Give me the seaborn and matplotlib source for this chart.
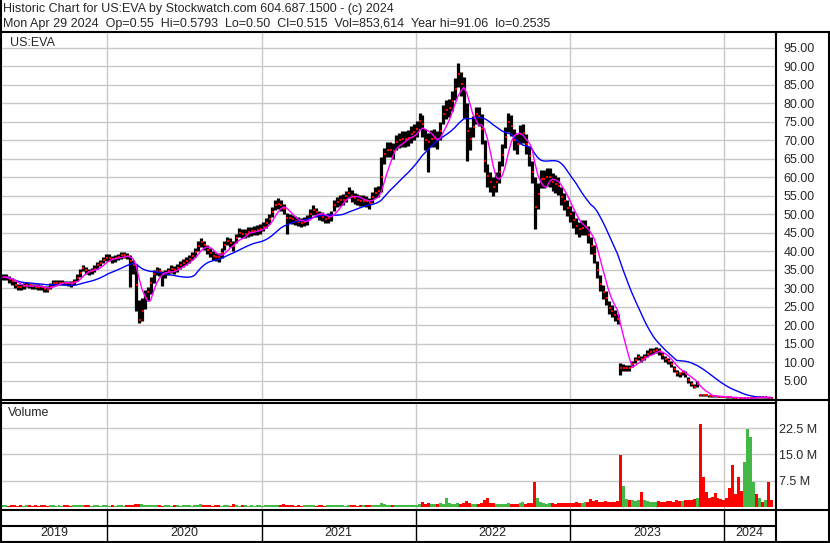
import numpy as np
import pandas as pd
import matplotlib
matplotlib.use("Agg")
import matplotlib.pyplot as plt
import seaborn as sns

sns.set_style("white")
plt.rcParams['font.family'] = ['Liberation Sans', 'DejaVu Sans']

# Dados semanais (US:EVA, abr/2019 - abr/2024)
week_start = "2019-04-29"

close = [33.0, 33.0, 32.5, 31.9, 31.0, 30.5, 30.3, 30.6, 31.0, 30.8,
         30.6, 30.5, 30.4, 30.3, 29.8, 29.7, 30.5, 31.4, 31.6, 31.6,
         31.6, 31.5, 31.4, 31.2, 31.8, 32.8, 34.3, 35.6, 34.9, 34.4,
         34.8, 35.3, 36.2, 37.0, 37.6, 38.2, 38.3, 37.9, 38.1, 38.5,
         38.9, 39.0, 38.8, 37.5, 36.2, 31.0, 21.5, 24.0, 27.5, 29.0,
         31.5, 34.0, 34.8, 34.6, 33.8, 34.0, 34.7, 35.2, 35.0, 35.5,
         36.4, 37.0, 37.5, 37.9, 38.7, 39.8, 41.5, 42.5, 41.6, 40.4,
         39.6, 38.8, 38.5, 38.4, 39.5, 41.6, 42.8, 42.4, 41.4, 43.5,
         45.0, 44.8, 44.8, 45.3, 45.5, 45.5, 45.8, 46.0, 46.7, 47.6,
         48.7, 50.6, 52.6, 52.9, 52.5, 51.5, 49.1, 49.0, 48.7, 48.3,
         48.0, 47.8, 48.0, 48.5, 50.2, 51.2, 50.6, 49.8, 49.4, 48.8,
         49.0, 49.5, 52.6, 53.3, 53.8, 54.0, 54.9, 55.9, 54.9, 54.4,
         54.0, 53.7, 53.7, 53.6, 53.0, 54.6, 55.8, 56.3, 60.0, 66.3,
         67.4, 67.5, 67.2, 69.5, 70.0, 70.4, 70.4, 70.7, 71.6, 72.2,
         73.0, 75.2, 74.5, 70.0, 69.6, 70.5, 70.6, 70.0, 72.5, 77.0,
         78.3, 78.8, 80.6, 84.0, 87.9, 85.2, 84.0, 72.5, 70.5, 73.7,
         77.2, 76.7, 73.0, 64.5, 60.5, 58.8, 57.5, 58.8, 61.5, 66.0,
         70.8, 75.0, 74.0, 70.2, 69.0, 71.6, 72.0, 69.0, 65.7, 61.5,
         52.0, 55.5, 59.5, 59.5, 60.0, 60.0, 58.8, 58.2, 57.7, 54.8,
         53.5, 51.8, 50.2, 48.6, 46.9, 46.0, 46.4, 46.5, 44.5, 41.5,
         39.4, 35.0, 31.2, 29.1, 27.4, 24.8, 23.9, 22.8, 21.8, 8.5,
         8.6, 8.6, 8.5, 9.6, 10.6, 11.6, 10.9, 11.6, 12.4, 12.9,
         13.1, 13.3, 13.0, 11.9, 10.9, 10.3, 9.5, 8.2, 7.1, 6.8,
         7.3, 6.8, 5.2, 4.3, 3.5, 4.2, 1.3, 1.2, 1.1, 1.0,
         0.9, 0.85, 0.8, 0.7, 0.65, 0.6, 0.55, 0.5, 0.45, 0.35,
         0.3, 0.3, 0.35, 0.5, 0.6, 0.55, 0.6, 0.55, 0.55, 0.52,
         0.515]

high = [34.0, 33.8, 33.4, 32.8, 31.9, 31.3, 31.1, 31.4, 31.8, 31.6,
        31.3, 31.2, 31.1, 31.0, 30.6, 30.6, 31.4, 32.2, 32.3, 32.2,
        32.3, 32.1, 32.0, 31.9, 32.6, 33.8, 35.3, 36.4, 35.8, 35.2,
        35.6, 36.2, 37.1, 37.8, 38.5, 39.2, 39.2, 38.8, 39.0, 39.4,
        39.8, 39.8, 39.6, 39.0, 37.8, 36.5, 27.0, 27.5, 29.5, 30.5,
        33.0, 35.0, 35.8, 35.6, 34.8, 35.0, 35.6, 36.2, 36.0, 36.5,
        37.4, 38.0, 38.6, 39.0, 39.8, 41.0, 42.8, 43.5, 42.8, 41.6,
        40.8, 40.0, 39.6, 39.6, 40.8, 42.8, 44.0, 43.6, 42.7, 44.6,
        46.2, 46.0, 46.0, 46.5, 46.7, 46.8, 47.0, 47.3, 48.0, 48.9,
        50.0, 52.0, 54.0, 54.3, 53.8, 52.8, 50.4, 50.2, 49.9, 49.5,
        49.2, 49.0, 49.2, 49.8, 51.5, 52.5, 51.8, 51.0, 50.6, 50.0,
        50.3, 51.0, 54.0, 54.8, 55.2, 55.5, 56.4, 57.4, 56.5, 55.9,
        55.5, 55.2, 55.2, 55.1, 54.5, 56.1, 57.3, 57.8, 65.5, 68.0,
        69.5, 69.6, 69.3, 71.5, 72.0, 72.4, 72.5, 72.8, 73.8, 74.4,
        75.2, 77.4, 76.8, 73.0, 72.0, 72.8, 73.0, 72.4, 75.0, 79.5,
        80.8, 81.3, 83.2, 86.8, 91.0, 88.5, 87.0, 80.0, 73.5, 76.5,
        79.0, 79.0, 77.0, 70.0, 63.5, 61.5, 60.2, 61.5, 64.5, 69.0,
        73.5, 77.5, 76.8, 73.0, 71.8, 74.2, 74.5, 71.8, 68.5, 64.5,
        60.0, 58.5, 62.0, 62.0, 62.4, 62.5, 61.2, 60.6, 60.0, 57.3,
        55.8, 54.0, 52.4, 50.8, 49.0, 48.0, 48.5, 48.6, 46.8, 43.8,
        41.6, 37.5, 33.5, 31.0, 29.2, 26.6, 25.5, 24.3, 23.2, 9.9,
        9.5, 9.4, 9.3, 10.5, 11.5, 12.4, 11.8, 12.4, 13.3, 13.8,
        14.0, 14.2, 14.0, 12.9, 11.8, 11.1, 10.3, 9.0, 7.9, 7.5,
        8.0, 7.6, 6.0, 5.0, 4.1, 4.9, 1.6, 1.45, 1.35, 1.25,
        1.1, 1.05, 1.0, 0.9, 0.85, 0.8, 0.7, 0.65, 0.6, 0.5,
        0.4, 0.38, 0.5, 0.65, 0.75, 0.7, 0.72, 0.68, 0.65, 0.6,
        0.58]

low = [32.3, 32.2, 31.6, 30.9, 30.1, 29.7, 29.5, 29.9, 30.3, 30.0,
       29.9, 29.8, 29.7, 29.6, 29.0, 28.9, 29.8, 30.7, 30.9, 30.9,
       30.9, 30.8, 30.7, 30.5, 31.0, 31.9, 33.2, 34.6, 34.0, 33.6,
       34.0, 34.5, 35.3, 36.1, 36.8, 37.3, 37.4, 37.0, 37.2, 37.6,
       38.0, 38.2, 37.9, 30.3, 34.0, 24.0, 20.7, 21.3, 24.5, 26.5,
       28.5, 31.5, 33.6, 33.4, 30.7, 32.8, 33.7, 34.2, 34.0, 34.4,
       35.3, 35.9, 36.4, 36.8, 37.6, 38.6, 40.0, 41.3, 40.4, 39.2,
       38.4, 37.6, 37.3, 37.2, 38.3, 40.3, 41.6, 41.2, 40.1, 42.3,
       43.8, 43.6, 43.6, 44.0, 44.2, 44.3, 44.5, 44.7, 45.4, 46.3,
       47.4, 49.2, 51.2, 51.5, 51.0, 50.2, 44.6, 47.8, 47.5, 47.1,
       46.8, 46.6, 46.8, 47.2, 48.9, 49.9, 49.4, 48.6, 48.2, 47.6,
       47.8, 48.2, 51.0, 51.9, 52.4, 52.6, 53.4, 54.4, 53.4, 52.9,
       52.5, 52.2, 52.2, 52.1, 51.5, 53.1, 54.3, 54.8, 56.0, 63.5,
       65.4, 65.4, 65.0, 67.4, 68.0, 68.3, 68.3, 68.6, 69.4, 70.0,
       70.8, 73.0, 71.0, 67.5, 61.5, 68.2, 68.2, 67.6, 70.0, 74.5,
       75.8, 76.2, 78.0, 81.0, 84.5, 82.0, 76.0, 64.5, 67.5, 70.8,
       74.5, 73.8, 69.0, 61.5, 57.5, 56.0, 55.0, 56.0, 58.5, 63.0,
       68.0, 72.3, 71.2, 67.5, 66.2, 69.0, 69.3, 66.3, 63.0, 58.5,
       46.0, 51.5, 57.0, 57.0, 57.6, 57.5, 56.4, 55.8, 55.2, 52.5,
       51.2, 49.6, 48.0, 46.4, 44.8, 44.0, 44.4, 44.4, 42.2, 39.3,
       37.0, 32.8, 29.4, 27.2, 25.6, 23.2, 22.4, 21.3, 20.5, 6.6,
       7.8, 7.8, 7.7, 8.8, 9.8, 10.8, 10.1, 10.8, 11.6, 12.1,
       12.3, 12.5, 12.1, 11.0, 10.1, 9.5, 8.7, 7.4, 6.4, 6.1,
       6.6, 6.0, 4.5, 3.6, 3.0, 3.5, 1.0, 0.95, 0.85, 0.8,
       0.75, 0.7, 0.65, 0.6, 0.55, 0.5, 0.45, 0.4, 0.35, 0.28,
       0.26, 0.25, 0.3, 0.4, 0.5, 0.45, 0.5, 0.48, 0.48, 0.47,
       0.5]

# volume em milhões
volume = [0.4, 0.35, 0.3, 0.35, 0.4, 0.3, 0.35, 0.3, 0.4, 0.35,
          0.3, 0.35, 0.3, 0.4, 0.35, 0.3, 0.35, 0.5, 0.3, 0.35,
          0.3, 0.4, 0.35, 0.3, 0.35, 0.4, 0.5, 0.45, 0.35, 0.4,
          0.3, 0.35, 0.4, 0.3, 0.35, 0.4, 0.3, 0.35, 0.3, 0.4,
          0.35, 0.3, 0.4, 0.45, 0.5, 0.8, 0.7, 0.6, 0.5, 0.4,
          0.45, 0.4, 0.35, 0.4, 0.3, 0.35, 0.4, 0.3, 0.35, 0.4,
          0.3, 0.35, 0.4, 0.35, 0.3, 0.4, 0.45, 0.7, 0.35, 0.4,
          0.35, 0.3, 0.4, 0.35, 0.3, 0.35, 0.4, 0.3, 0.7, 0.4,
          0.3, 0.35, 0.4, 0.3, 0.35, 0.3, 0.4, 0.35, 0.3, 0.4,
          0.35, 0.4, 0.45, 0.4, 0.35, 0.6, 0.5, 0.4, 0.35, 0.3,
          0.35, 0.3, 0.4, 0.35, 0.4, 0.35, 0.3, 0.4, 0.35, 0.3,
          0.35, 0.4, 0.45, 0.4, 0.35, 0.4, 0.3, 0.35, 0.4, 0.35,
          0.3, 0.35, 0.4, 0.35, 0.4, 0.45, 0.4, 0.5, 0.9, 0.7,
          0.5, 0.45, 0.4, 0.45, 0.5, 0.4, 0.45, 0.5, 0.4, 0.45,
          0.5, 0.6, 1.2, 0.7, 0.9, 0.6, 0.7, 0.6, 1.1, 0.8,
          2.5, 0.9, 0.8, 0.7, 0.9, 0.8, 0.9, 1.5, 1.0, 0.8,
          0.7, 0.8, 0.9, 2.0, 2.6, 1.0, 0.9, 0.8, 0.7, 0.8,
          0.7, 0.9, 0.8, 0.7, 0.8, 0.9, 1.3, 0.8, 0.9, 1.0,
          7.0, 2.4, 1.2, 0.9, 0.8, 0.9, 1.0, 0.8, 0.9, 1.0,
          0.9, 1.0, 1.1, 1.0, 1.2, 1.0, 1.1, 1.2, 1.3, 2.3,
          1.5, 1.8, 1.4, 1.3, 1.5, 1.2, 1.4, 1.3, 1.6, 14.9,
          5.9, 2.2, 1.8, 2.0, 1.6, 1.8, 4.1, 1.9, 1.5, 1.4,
          1.3, 1.2, 1.5, 1.4, 1.3, 1.6, 1.5, 1.4, 1.8, 1.7,
          1.6, 2.0, 1.8, 1.9, 2.2, 2.5, 23.9, 8.6, 4.1, 2.5,
          2.8, 3.8, 2.5, 2.2, 1.8, 2.6, 5.4, 12.0, 3.6, 8.6,
          4.5, 12.9, 22.3, 19.9, 7.2, 3.6, 2.4, 1.4, 1.8, 7.2,
          2.0]

price_ticks = [95, 90, 85, 80, 75, 70, 65, 60, 55, 50, 45, 40, 35, 30, 25, 20, 15, 10, 5]
vol_ticks = [7.5, 15.0, 22.5]
years = [2019, 2020, 2021, 2022, 2023, 2024]

title_1 = "Historic Chart for US:EVA by Stockwatch.com 604.687.1500 - (c) 2024"
title_2 = ("Mon Apr 29 2024  Op=0.55  Hi=0.5793  Lo=0.50  Cl=0.515  "
           "Vol=853,614  Year hi=91.06  lo=0.2535")

# Preparação
dates = pd.date_range(week_start, periods=len(close), freq="7D")
df = pd.DataFrame({"Data": dates, "Close": close, "High": high,
                   "Low": low, "Volume": volume})
df["MA_curta"] = df["Close"].rolling(5, min_periods=1).mean()
df["MA_longa"] = df["Close"].rolling(20, min_periods=1).mean()
df["Sobe"] = df["Close"].diff().fillna(0) >= 0

x_left = dates[0] - pd.Timedelta(days=2)
x_right = dates[0] + pd.Timedelta(days=1829)
year_starts = [pd.Timestamp(f"{y}-01-01") for y in years[1:]]

W, H = 830, 543
fig = plt.figure(figsize=(W / 100, H / 100), dpi=100)
fig.patch.set_facecolor("white")


def px_axes(x0, y0, x1, y1):
    return fig.add_axes([x0 / W, 1 - y1 / H, (x1 - x0) / W, (y1 - y0) / H])


grid_c = "#c8c8c8"
fs = 9

# Painel de preço
ax = px_axes(2, 33, 775, 400)
for v in price_ticks:
    ax.axhline(v, color=grid_c, lw=1.0, zorder=0)
for d in year_starts:
    ax.axvline(d, color=grid_c, lw=1.0, zorder=0)
ax.vlines(df["Data"], df["Low"], df["High"], color="black", lw=2.3, zorder=2)
ax.scatter(df["Data"] + pd.Timedelta(days=2), df["Close"], marker="s", s=1.5,
           color="red", linewidths=0, zorder=3)
sns.lineplot(data=df, x="Data", y="MA_longa", color="#0000ff", lw=1.0, ax=ax, zorder=4)
sns.lineplot(data=df, x="Data", y="MA_curta", color="#ff00ff", lw=1.0, ax=ax, zorder=5)
ax.set_xlim(x_left, x_right)
ax.set_ylim(-0.14, 99.0)
ax.yaxis.tick_right()
ax.set_yticks(price_ticks)
ax.set_yticklabels([f"{v:.2f}" for v in price_ticks], fontsize=fs)
ax.tick_params(axis="y", length=0, pad=6)
ax.set_xticks([])
ax.set_xlabel("")
ax.set_ylabel("")
for s in ax.spines.values():
    s.set_visible(False)
fig.text(10 / W, 1 - 43 / H, "US:EVA", fontsize=fs, va="center", ha="left")

# Painel de volume
axv = px_axes(2, 403, 775, 509)
for v in vol_ticks:
    axv.axhline(v, color=grid_c, lw=1.0, zorder=0)
for d in year_starts:
    axv.axvline(d, color=grid_c, lw=1.0, zorder=0)
cores = np.where(df["Sobe"], "#44b846", "#ff0000")
axv.bar(df["Data"], df["Volume"], width=7, color=cores, linewidth=0, zorder=2)
axv.set_xlim(x_left, x_right)
axv.set_ylim(-0.7, 29.8)
axv.yaxis.tick_right()
axv.set_yticks(vol_ticks)
axv.set_yticklabels([f"{v:.1f} M" for v in vol_ticks], fontsize=fs)
axv.tick_params(axis="y", length=0, pad=3)
axv.set_xticks([])
for s in axv.spines.values():
    s.set_visible(False)
fig.text(8 / W, 1 - 413 / H, "Volume", fontsize=fs, va="center", ha="left")

# Faixa dos anos
axy = px_axes(2, 509, 775, 541)
axy.set_xlim(x_left, x_right)
axy.set_ylim(0, 1)
for d in year_starts:
    axy.axvline(d, color="black", lw=1.0)
bordas = [x_left] + year_starts + [x_right]
for y, a, b in zip(years, bordas[:-1], bordas[1:]):
    axy.text(a + (b - a) / 2, 0.24, str(y), ha="center", va="center", fontsize=fs)
axy.axhline(0.47, color="black", lw=1.5)
axy.axis("off")

# Moldura
frame = fig.add_axes([0, 0, 1, 1], zorder=10)
frame.set_xlim(0, W)
frame.set_ylim(H, 0)
frame.axis("off")
frame.patch.set_alpha(0)
kw = dict(color="black", lw=1.5, solid_capstyle="butt")
frame.plot([0, W], [32, 32], **kw)
frame.plot([1, 1], [0, H], **kw)
frame.plot([W - 1, W - 1], [32, H], **kw)
frame.plot([776, 776], [32, H], **kw)
frame.plot([0, W], [399.5, 399.5], **kw)
frame.plot([0, 776], [402.5, 402.5], **kw)
frame.plot([0, W], [510, 510], **kw)
frame.plot([0, W], [541.5, 541.5], **kw)

fig.text(3 / W, 1 - 9 / H, title_1, fontsize=fs, va="center", ha="left")
fig.text(3 / W, 1 - 24 / H, title_2, fontsize=fs, va="center", ha="left")

fig.savefig("out.png", dpi=100)
